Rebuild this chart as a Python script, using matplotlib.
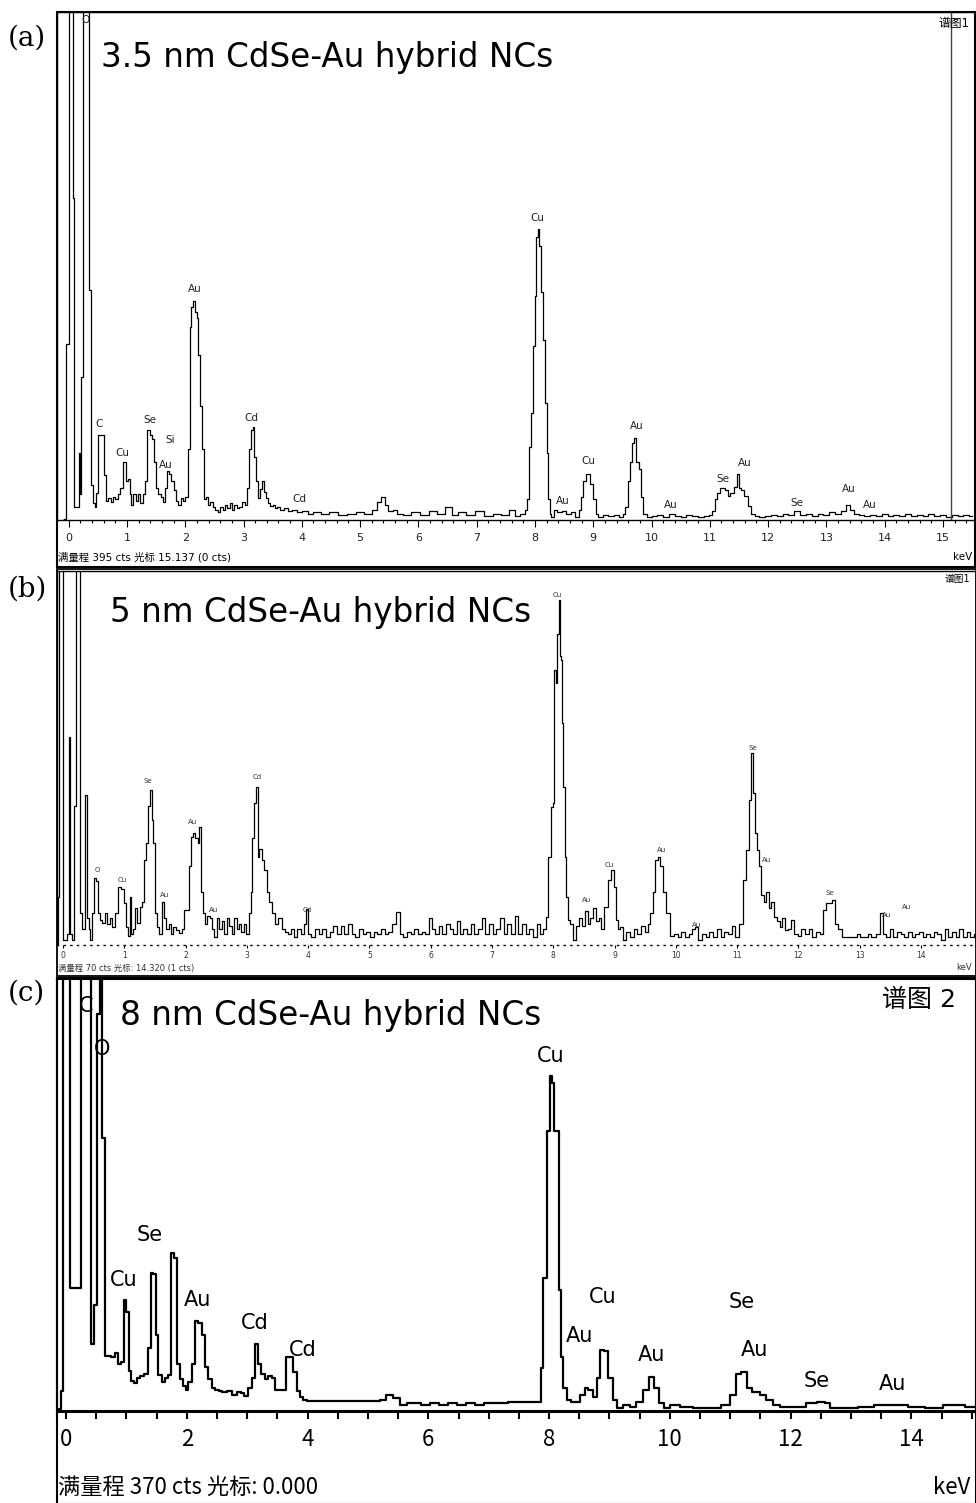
import matplotlib.pyplot as plt
from matplotlib.patches import Rectangle
from matplotlib.ticker import MultipleLocator

W, H = 976, 1503

###### (a) 3.5 nm CdSe-Au ######
energy_a = [-0.10, -0.06, -0.02, 0.02, 0.06, 0.08, 0.11, 0.15, 0.19, 0.21, 0.23, 0.26, 0.30, 0.34,
            0.36, 0.39, 0.43, 0.46, 0.48, 0.51, 0.55, 0.59, 0.62, 0.65, 0.70, 0.74, 0.78, 0.82,
            0.86, 0.90, 0.96, 1.00, 1.03, 1.06, 1.09, 1.13, 1.17, 1.21, 1.25, 1.29, 1.33, 1.37,
            1.41, 1.45, 1.49, 1.52, 1.56, 1.60, 1.64, 1.67, 1.70, 1.74, 1.78, 1.82, 1.86, 1.90,
            1.94, 1.98, 2.02, 2.06, 2.09, 2.12, 2.15, 2.18, 2.21, 2.24, 2.27, 2.30, 2.33, 2.37,
            2.41, 2.45, 2.49, 2.53, 2.58, 2.62, 2.66, 2.70, 2.74, 2.78, 2.82, 2.86, 2.90, 2.95,
            3.00, 3.04, 3.08, 3.12, 3.15, 3.17, 3.20, 3.23, 3.26, 3.30, 3.33, 3.36, 3.40, 3.44,
            3.48, 3.52, 3.56, 3.60, 3.66, 3.72, 3.80, 3.88, 3.95, 4.05, 4.15, 4.25, 4.40, 4.55,
            4.70, 4.85, 5.00, 5.15, 5.25, 5.33, 5.39, 5.45, 5.52, 5.60, 5.68, 5.80, 5.95, 6.10,
            6.25, 6.40, 6.53, 6.62, 6.75, 6.90, 7.05, 7.20, 7.35, 7.50, 7.60, 7.70, 7.80, 7.85,
            7.88, 7.92, 7.95, 7.98, 8.01, 8.04, 8.06, 8.09, 8.12, 8.15, 8.19, 8.22, 8.24, 8.26,
            8.30, 8.35, 8.42, 8.50, 8.58, 8.66, 8.72, 8.78, 8.81, 8.85, 8.89, 8.93, 8.97, 9.02,
            9.06, 9.12, 9.20, 9.30, 9.40, 9.48, 9.53, 9.57, 9.61, 9.65, 9.69, 9.72, 9.76, 9.80,
            9.84, 9.88, 9.95, 10.05, 10.15, 10.25, 10.35, 10.45, 10.55, 10.65, 10.75, 10.85,
            10.95, 11.02, 11.07, 11.10, 11.15, 11.19, 11.24, 11.29, 11.33, 11.38, 11.45, 11.48,
            11.51, 11.56, 11.62, 11.68, 11.74, 11.80, 11.90, 12.00, 12.10, 12.20, 12.30, 12.40,
            12.50, 12.60, 12.70, 12.80, 12.90, 13.00, 13.10, 13.20, 13.30, 13.38, 13.44, 13.52,
            13.60, 13.70, 13.80, 13.90, 14.00, 14.10, 14.20, 14.30, 14.40, 14.50, 14.60, 14.70,
            14.80, 14.90, 15.00, 15.10, 15.20, 15.30, 15.40, 15.50]
counts_a = [0, 1, 137, 500, 500, 250, 10, 10, 52, 20, 111, 500, 500, 500,
            179, 27, 13, 10, 21, 66, 66, 66, 35, 15, 17, 14, 18, 16,
            20, 25, 45, 30, 32, 20, 12, 20, 15, 20, 13, 20, 30, 70,
            66, 63, 45, 25, 20, 18, 14, 25, 38, 36, 30, 23, 15, 12,
            17, 15, 18, 55, 150, 166, 170, 162, 157, 128, 89, 55, 16, 18,
            12, 14, 10, 8, 6, 10, 8, 12, 9, 13, 8, 12, 9, 10,
            14, 12, 25, 55, 70, 72, 49, 30, 17, 24, 30, 22, 17, 13,
            11, 12, 9, 10, 8, 9, 7, 8, 6, 7, 5, 6, 5, 6,
            4, 5, 6, 5, 8, 14, 18, 12, 7, 8, 5, 4, 6, 4,
            7, 5, 10, 4, 6, 4, 7, 3, 5, 4, 8, 3, 5, 8,
            16, 57, 83, 135, 174, 220, 226, 213, 177, 140, 91, 52, 16, 5,
            2, 8, 6, 7, 5, 6, 2, 8, 18, 30, 36, 36, 28, 16,
            5, 2, 4, 3, 4, 2, 5, 10, 30, 45, 60, 64, 45, 40,
            18, 5, 2, 3, 4, 2, 5, 3, 2, 4, 3, 2,
            3, 4, 7, 16, 21, 25, 25, 23, 19, 21, 26, 36,
            25, 23, 19, 11, 5, 3, 2, 3, 4, 3, 5, 4,
            7, 4, 5, 3, 5, 4, 6, 5, 7, 12, 8, 5,
            4, 3, 4, 3, 5, 3, 4, 3, 5, 3, 4, 3,
            5, 3, 4, 2, 4, 3, 4, 3]
fullscale_a = 395
cursor_a = 15.137
names_a = ['O', 'C', 'Cu', 'Se', 'Si', 'Au', 'Au', 'Cd', 'Cd', 'Cu', 'Au', 'Cu', 'Au', 'Au',
           'Se', 'Au', 'Se', 'Au', 'Au']
name_kev_a = [0.29, 0.53, 0.93, 1.39, 1.75, 1.66, 2.16, 3.14, 3.95, 8.04, 8.47, 8.92, 9.74,
              10.33, 11.22, 11.60, 12.49, 13.38, 13.74]
name_cts_a = [389, 75, 52, 78, 62, 43, 180, 79, 16, 235, 15, 46, 73, 12, 32, 44, 13, 24, 12]

###### (b) 5 nm CdSe-Au ######
energy_b = [-0.10, -0.08, -0.05, -0.02, 0.00, 0.05, 0.09, 0.10, 0.13, 0.17, 0.20, 0.23, 0.27,
            0.29, 0.33, 0.375, 0.40, 0.43, 0.46, 0.49, 0.52, 0.55, 0.58, 0.62, 0.66, 0.70, 0.74,
            0.78, 0.82, 0.87, 0.93, 0.97, 1.01, 1.04, 1.07, 1.10, 1.13, 1.16, 1.19, 1.23, 1.27,
            1.31, 1.34, 1.37, 1.40, 1.43, 1.46, 1.49, 1.52, 1.55, 1.59, 1.63, 1.66, 1.70, 1.74,
            1.78, 1.82, 1.87, 1.91, 1.96, 2.00, 2.04, 2.07, 2.10, 2.14, 2.18, 2.21, 2.24, 2.27,
            2.30, 2.33, 2.37, 2.41, 2.45, 2.49, 2.53, 2.57, 2.61, 2.65, 2.69, 2.73, 2.77, 2.81,
            2.85, 2.89, 2.93, 2.97, 3.01, 3.05, 3.08, 3.10, 3.13, 3.16, 3.19, 3.22, 3.26, 3.30,
            3.34, 3.38, 3.43, 3.49, 3.54, 3.59, 3.65, 3.70, 3.75, 3.80, 3.85, 3.90, 3.95, 3.98,
            4.02, 4.08, 4.14, 4.20, 4.26, 4.32, 4.38, 4.44, 4.50, 4.56, 4.62, 4.68, 4.74, 4.80,
            4.86, 4.92, 4.98, 5.04, 5.10, 5.16, 5.22, 5.28, 5.34, 5.40, 5.47, 5.52, 5.58, 5.64,
            5.70, 5.76, 5.82, 5.88, 5.94, 5.99, 6.04, 6.10, 6.16, 6.22, 6.28, 6.34, 6.40, 6.45,
            6.50, 6.56, 6.62, 6.68, 6.74, 6.80, 6.86, 6.92, 6.98, 7.04, 7.10, 7.16, 7.22, 7.28,
            7.34, 7.40, 7.46, 7.52, 7.58, 7.64, 7.70, 7.76, 7.82, 7.86, 7.89, 7.94, 7.97, 8.01,
            8.03, 8.05, 8.08, 8.10, 8.11, 8.14, 8.15, 8.17, 8.20, 8.23, 8.26, 8.30, 8.35, 8.40,
            8.45, 8.50, 8.54, 8.58, 8.62, 8.68, 8.72, 8.76, 8.80, 8.87, 8.92, 8.97, 9.00, 9.04,
            9.08, 9.11, 9.17, 9.22, 9.28, 9.34, 9.40, 9.46, 9.52, 9.56, 9.60, 9.64, 9.68, 9.73,
            9.76, 9.82, 9.87, 9.93, 10.00, 10.06, 10.12, 10.18, 10.24, 10.30, 10.34, 10.40,
            10.46, 10.52, 10.58, 10.64, 10.70, 10.76, 10.82, 10.88, 10.94, 11.00, 11.06, 11.12,
            11.18, 11.21, 11.24, 11.27, 11.30, 11.34, 11.37, 11.42, 11.46, 11.50, 11.54, 11.58,
            11.64, 11.68, 11.72, 11.76, 11.80, 11.86, 11.91, 11.96, 12.02, 12.08, 12.14, 12.20,
            12.26, 12.32, 12.38, 12.43, 12.48, 12.54, 12.57, 12.62, 12.68, 12.74, 12.80, 12.86,
            12.92, 12.98, 13.04, 13.10, 13.16, 13.22, 13.30, 13.35, 13.40, 13.46, 13.52, 13.58,
            13.64, 13.70, 13.76, 13.82, 13.88, 13.94, 14.00, 14.06, 14.12, 14.18, 14.24, 14.30,
            14.36, 14.42, 14.48, 14.54, 14.60, 14.66, 14.72, 14.78, 14.84, 14.90]
counts_b = [0, 9, 100, 100, 1, 1, 2, 39, 2, 1, 26, 100, 100,
            6, 3, 28, 5, 3, 1, 6, 12.5, 12, 6, 4.7, 4.1, 6, 4,
            5, 3.4, 6, 10.9, 10.5, 7.8, 3.4, 1.6, 9, 2, 3, 7, 4.1, 7.2,
            8, 15.9, 19, 26, 29, 23.4, 19, 6, 3.4, 2, 8.1, 5, 3, 4,
            2, 3.4, 2.8, 2.2, 3, 6.6, 6.6, 14.7, 20.3, 21, 20, 19, 22, 10,
            6, 4, 5.5, 5, 3, 1.5, 5, 3, 4.5, 2, 5, 3.5, 2, 5,
            3, 4, 2.5, 4, 2, 6, 10, 20, 26.5, 29.6, 16.5, 18, 16, 14,
            10, 8, 6, 4, 5, 3, 2.5, 2, 3, 1.5, 3, 2, 4, 6.7,
            2, 1.5, 3, 2, 3, 1.5, 2.5, 3.5, 2, 3.5, 2, 4, 2, 1.5,
            3, 2, 2.5, 1.5, 2.5, 2, 3, 2, 2.5, 4, 6.2, 2, 1.5, 2.5,
            2, 3, 2, 2.5, 2, 5, 3, 2, 3.5, 2, 4, 3, 2, 4.5,
            2, 3, 2, 4, 2, 3, 5, 2, 4, 2, 3, 5, 2, 4,
            2, 5.5, 2, 4, 2, 3, 1.5, 4, 2, 3, 5.3, 16.5, 25.8, 26.5,
            51.5, 49, 58.3, 64.6, 54, 53.4, 41.5, 29.6, 16.5, 9, 4.7, 4, 1, 3.5,
            5, 3.5, 6.3, 4, 5, 7, 4.5, 5, 3, 7.2, 12.2, 14, 10.9, 4.7,
            3, 3.4, 1, 2.5, 1.5, 3, 2, 3.5, 2.5, 4, 5.9, 10, 15.9, 16.5,
            14.7, 10, 6, 1.6, 2, 1.5, 2.5, 1.5, 2, 3, 3.4, 1,
            2, 1.5, 2.5, 1.5, 3, 1.5, 2.5, 2, 3.5, 1.5, 4, 12.2,
            17.8, 27.2, 35.9, 28.4, 21, 17.8, 14.7, 9.4, 8, 10, 7, 8,
            5.3, 4.5, 3.4, 5, 2.8, 3, 4.7, 2, 1.6, 3, 2, 3,
            1.5, 2.5, 2, 6.6, 7.8, 7.8, 8.5, 4, 3, 1.5, 1.5, 1.5,
            1.5, 2, 1.5, 1.5, 2, 1.5, 2, 5.9, 2, 1.5, 3, 1.5,
            2.5, 2, 1.5, 2.5, 1.5, 2, 2.5, 1.5, 2, 1.5, 2.5, 2,
            1, 3, 1.5, 2.5, 1.5, 3, 1.5, 2.5, 1.5, 2]
fullscale_b = 70
names_b = ['O', 'Cu', 'Se', 'Au', 'Au', 'Au', 'Cd', 'Cd', 'Cu', 'Au', 'Cu', 'Au', 'Au',
           'Se', 'Au', 'Se', 'Au', 'Au']
name_kev_b = [0.55, 0.96, 1.39, 1.66, 2.12, 2.45, 3.16, 3.98, 8.07, 8.55, 8.92, 9.77, 10.34,
              11.26, 11.48, 12.51, 13.44, 13.77]
name_cts_b = [14.0, 12.2, 30.7, 9.4, 23.0, 6.6, 31.5, 6.6, 65.5, 8.4, 15.0, 17.8, 3.7,
              36.9, 15.9, 9.7, 5.6, 7.1]

###### (c) 8 nm CdSe-Au ######
energy_c = [-0.15, -0.10, -0.06, -0.03, 0.04, 0.10, 0.16, 0.22, 0.26, 0.38, 0.43, 0.48, 0.53,
            0.58, 0.62, 0.66, 0.72, 0.78, 0.84, 0.88, 0.93, 0.98, 1.02, 1.06, 1.10, 1.14, 1.20,
            1.26, 1.32, 1.38, 1.42, 1.47, 1.50, 1.56, 1.61, 1.67, 1.72, 1.77, 1.82, 1.86, 1.91,
            1.96, 2.00, 2.05, 2.11, 2.16, 2.22, 2.27, 2.33, 2.38, 2.44, 2.50, 2.56, 2.62, 2.71,
            2.80, 2.86, 2.92, 2.99, 3.05, 3.10, 3.16, 3.21, 3.26, 3.32, 3.38, 3.43, 3.49, 3.55,
            3.60, 3.68, 3.74, 3.79, 3.85, 3.90, 3.95, 4.04, 4.20, 4.40, 4.60, 4.80, 5.00, 5.15,
            5.25, 5.36, 5.47, 5.58, 5.70, 5.81, 5.95, 6.10, 6.25, 6.40, 6.55, 6.70, 6.85, 7.00,
            7.19, 7.46, 7.70, 7.85, 7.88, 7.93, 7.99, 8.04, 8.07, 8.10, 8.15, 8.18, 8.21, 8.26,
            8.32, 8.40, 8.46, 8.56, 8.62, 8.68, 8.76, 8.81, 8.87, 8.95, 9.01, 9.09, 9.17, 9.28,
            9.39, 9.50, 9.61, 9.70, 9.78, 9.86, 9.95, 10.05, 10.28, 10.50, 10.77, 10.94, 11.05,
            11.13, 11.24, 11.30, 11.43, 11.54, 11.66, 11.77, 11.88, 12.15, 12.37, 12.51, 12.62,
            12.70, 12.98, 13.26, 13.50, 13.81, 14.08, 14.36, 14.69, 15.07]
counts_c = [0, 2, 17, 500, 500, 105, 105, 105, 500, 500, 57, 91, 340,
            500, 234, 47, 47, 46, 50, 40, 42, 95, 85, 34, 26, 24, 28,
            30, 32, 54, 118, 117, 65, 31, 25, 28, 31, 135, 131, 40, 27,
            21, 18, 25, 40, 77, 75, 65, 38, 27, 20, 18, 17, 16, 17,
            14, 16, 15, 13, 20, 28, 57, 40, 32, 27, 30, 28, 18, 18,
            18, 46, 46, 33, 17, 12, 9.5, 8.6, 8.6, 8.6, 8.6, 8.6, 8.6, 8.6,
            9.5, 13.8, 10.9, 5.1, 7, 6.6, 5.1, 6.6, 5.1, 6.6, 5.1, 6.6, 5.1, 6.6,
            6.6, 8, 8, 8, 36.6, 113.8, 239.7, 286.9, 281.2, 239.7, 239.7, 103.8, 46.6, 19.5,
            9.5, 8, 8, 13.8, 19.5, 18.1, 12.4, 28, 52.4, 51, 28, 9.5, 2.3, 5.1,
            3.7, 8, 18.1, 29.5, 19.5, 6.6, 2.3, 5.1, 3.7, 2.3, 2.3, 5.1, 13.8,
            31.6, 33.7, 19.5, 16.7, 13.8, 9.5, 5.1, 3.7, 3.7, 6.6, 8, 6.6,
            2.3, 2.3, 3.7, 5, 5.1, 3.7, 2.3, 5.1, 3.7]
fullscale_c = 370
names_c = ['C', 'O', 'Cu', 'Se', 'Au', 'Cd', 'Cd', 'Cu', 'Au', 'Cu', 'Au', 'Se', 'Au', 'Se', 'Au']
name_kev_c = [0.33, 0.60, 0.96, 1.39, 2.17, 3.13, 3.92, 8.03, 8.51, 8.89, 9.70, 11.19, 11.41,
              12.43, 13.69]
name_cts_c = [347, 310, 112, 151, 95, 75, 52, 304, 64, 98, 48, 93, 52, 26, 23]


plt.rcParams['font.family'] = ['DejaVu Sans', 'Noto Sans CJK SC']
fig = plt.figure(figsize=(W / 100, H / 100), dpi=100)


def fbox(x0, y0, x1, y1):
    return [x0 / W, 1 - y1 / H, (x1 - x0) / W, (y1 - y0) / H]


def ftext(x, y, s, **kw):
    fig.text(x / W, 1 - y / H, s, **kw)


def frame(x0, y0, x1, y1, lw):
    fig.add_artist(Rectangle((x0 / W, 1 - y1 / H), (x1 - x0) / W, (y1 - y0) / H,
                             transform=fig.transFigure, fill=False, ec='black', lw=lw))


def setup(ax, lw_spine):
    ax.set_yticks([])
    for s in ['left', 'top', 'right', 'bottom']:
        ax.spines[s].set_linewidth(lw_spine)


narrow = ['Liberation Sans Narrow', 'Noto Sans CJK SC']

######## (a) ########
ax = fig.add_axes(fbox(57, 12, 975, 520))
ax.plot(energy_a, counts_a, color='black', lw=0.9, drawstyle='steps-mid')
ax.axvline(cursor_a, color='#444444', lw=1.0)
ax.set_xlim(-0.2, 15.55)
ax.set_ylim(0, fullscale_a)
setup(ax, 1.0)
ax.xaxis.set_major_locator(MultipleLocator(1))
ax.xaxis.set_minor_locator(MultipleLocator(0.2))
ax.tick_params(axis='x', which='major', direction='out', length=5, width=0.8, pad=4,
               labelsize=8, labelcolor='#222222')
ax.tick_params(axis='x', which='minor', direction='out', length=2.5, width=0.8)
for n, xk, yc in zip(names_a, name_kev_a, name_cts_a):
    ax.text(xk, yc, n, ha='center', va='center', fontsize=7.5, color='#222222')
frame(57, 12, 975, 567, 1.5)
ftext(8, 38, '(a)', ha='left', va='center', family='DejaVu Serif', fontsize=20)
ftext(101, 67, '3.5 nm CdSe-Au hybrid NCs', ha='left', va='baseline', fontsize=23.5)
ftext(970, 24, '谱图1', ha='right', va='center', fontsize=8.5)
ftext(58, 557, '满量程 395 cts 光标 15.137 (0 cts)', ha='left', va='center', fontsize=7.5)
ftext(972, 557, 'keV', ha='right', va='center', fontsize=7.5)

######## (b) ########
ax = fig.add_axes(fbox(57, 571, 976, 945))
ax.plot(energy_b, counts_b, color='black', lw=0.9, drawstyle='steps-mid')
ax.set_xlim(-0.1, 14.9)
ax.set_ylim(0, fullscale_b)
setup(ax, 1.0)
ax.spines['bottom'].set_linestyle((0, (0.8, 4)))
ax.xaxis.set_major_locator(MultipleLocator(1))
ax.tick_params(axis='x', which='major', direction='out', length=2, width=0.8, pad=2.5,
               labelsize=5.5, labelcolor='#333333')
for n, xk, yc in zip(names_b, name_kev_b, name_cts_b):
    ax.text(xk, yc, n, ha='center', va='center', fontsize=5, color='#333333')
frame(57, 569, 976, 976, 1.3)
ftext(8, 589, '(b)', ha='left', va='center', family='DejaVu Serif', fontsize=20)
ftext(110, 622, '5 nm CdSe-Au hybrid NCs', ha='left', va='baseline', fontsize=23.5)
ftext(970, 579, '谱图1', ha='right', va='center', fontsize=7)
ftext(58, 968, '满量程 70 cts 光标: 14.320 (1 cts)', ha='left', va='center', fontsize=6,
      color='#333333')
ftext(972, 968, 'keV', ha='right', va='center', fontsize=6, color='#333333')

######## (c) ########
ax = fig.add_axes(fbox(57, 979, 976, 1411))
ax.plot(energy_c, counts_c, color='black', lw=1.6, drawstyle='steps-mid')
ax.set_xlim(-0.15, 15.07)
ax.set_ylim(0, fullscale_c)
setup(ax, 1.5)
ax.spines['bottom'].set_linewidth(2.2)
ax.xaxis.set_major_locator(MultipleLocator(2))
ax.xaxis.set_minor_locator(MultipleLocator(0.5))
ax.tick_params(axis='x', which='both', direction='out', length=6, width=1.5)
ax.tick_params(axis='x', which='major', pad=6, labelsize=16)
for lab in ax.get_xticklabels():
    lab.set_family(narrow)
for n, xk, yc in zip(names_c, name_kev_c, name_cts_c):
    ax.text(xk, yc, n, ha='center', va='center', fontsize=15)
frame(57, 978, 976, 1504, 1.5)
ftext(8, 993, '(c)', ha='left', va='center', family='DejaVu Serif', fontsize=20)
ftext(120, 1025, '8 nm CdSe-Au hybrid NCs', ha='left', va='baseline', fontsize=23.5)
ftext(882, 1000, '谱图 2', ha='left', va='center', fontsize=18)
ftext(58, 1487, '满量程 370 cts 光标: 0.000', ha='left', va='center', fontsize=16,
      family=narrow)
ftext(970, 1487, 'keV', ha='right', va='center', fontsize=16, family=narrow)

fig.savefig('out.png', dpi=100)
